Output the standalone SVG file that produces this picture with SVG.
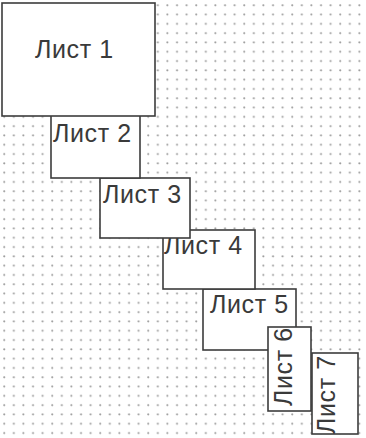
<svg xmlns="http://www.w3.org/2000/svg" width="366" height="438" viewBox="0 0 366 438">
<defs>
<pattern id="dots" x="3" y="4" width="9.6" height="9.3" patternUnits="userSpaceOnUse">
<circle cx="1.2" cy="1.2" r="1.05" fill="#9a9a9a"/>
</pattern>
<style>
.box{fill:#fff;stroke:#3c3c3c;stroke-width:1.6}
.lbl{font-family:"Liberation Sans",Arial,sans-serif;font-size:25px;fill:#3a3a3a;letter-spacing:0.6px}
</style>
</defs>
<rect width="366" height="438" fill="#fff"/>
<rect width="366" height="438" fill="url(#dots)"/>
<g id="connectors"/>
<g id="node5"><rect class="box" x="203" y="289" width="93" height="61"/><text class="lbl" x="210" y="313">Лист 5</text></g>
<g id="node6"><rect class="box" x="268" y="327" width="43" height="84"/><text class="lbl" transform="translate(292,406) rotate(-90)">Лист 6</text></g>
<g id="node7"><rect class="box" x="312" y="353" width="46" height="81"/><text class="lbl" transform="translate(335,434) rotate(-90)">Лист 7</text></g>
<g id="node4"><rect class="box" x="163" y="230" width="92" height="59"/><text class="lbl" x="164" y="254">Лист 4</text></g>
<g id="node3"><rect class="box" x="100" y="178" width="90" height="60"/><text class="lbl" x="103" y="203">Лист 3</text></g>
<g id="node2"><rect class="box" x="51" y="110" width="89" height="68"/><text class="lbl" x="53" y="142">Лист 2</text></g>
<g id="node1"><rect class="box" x="2" y="3" width="153" height="113"/><text class="lbl" x="35" y="58">Лист 1</text></g>
</svg>
